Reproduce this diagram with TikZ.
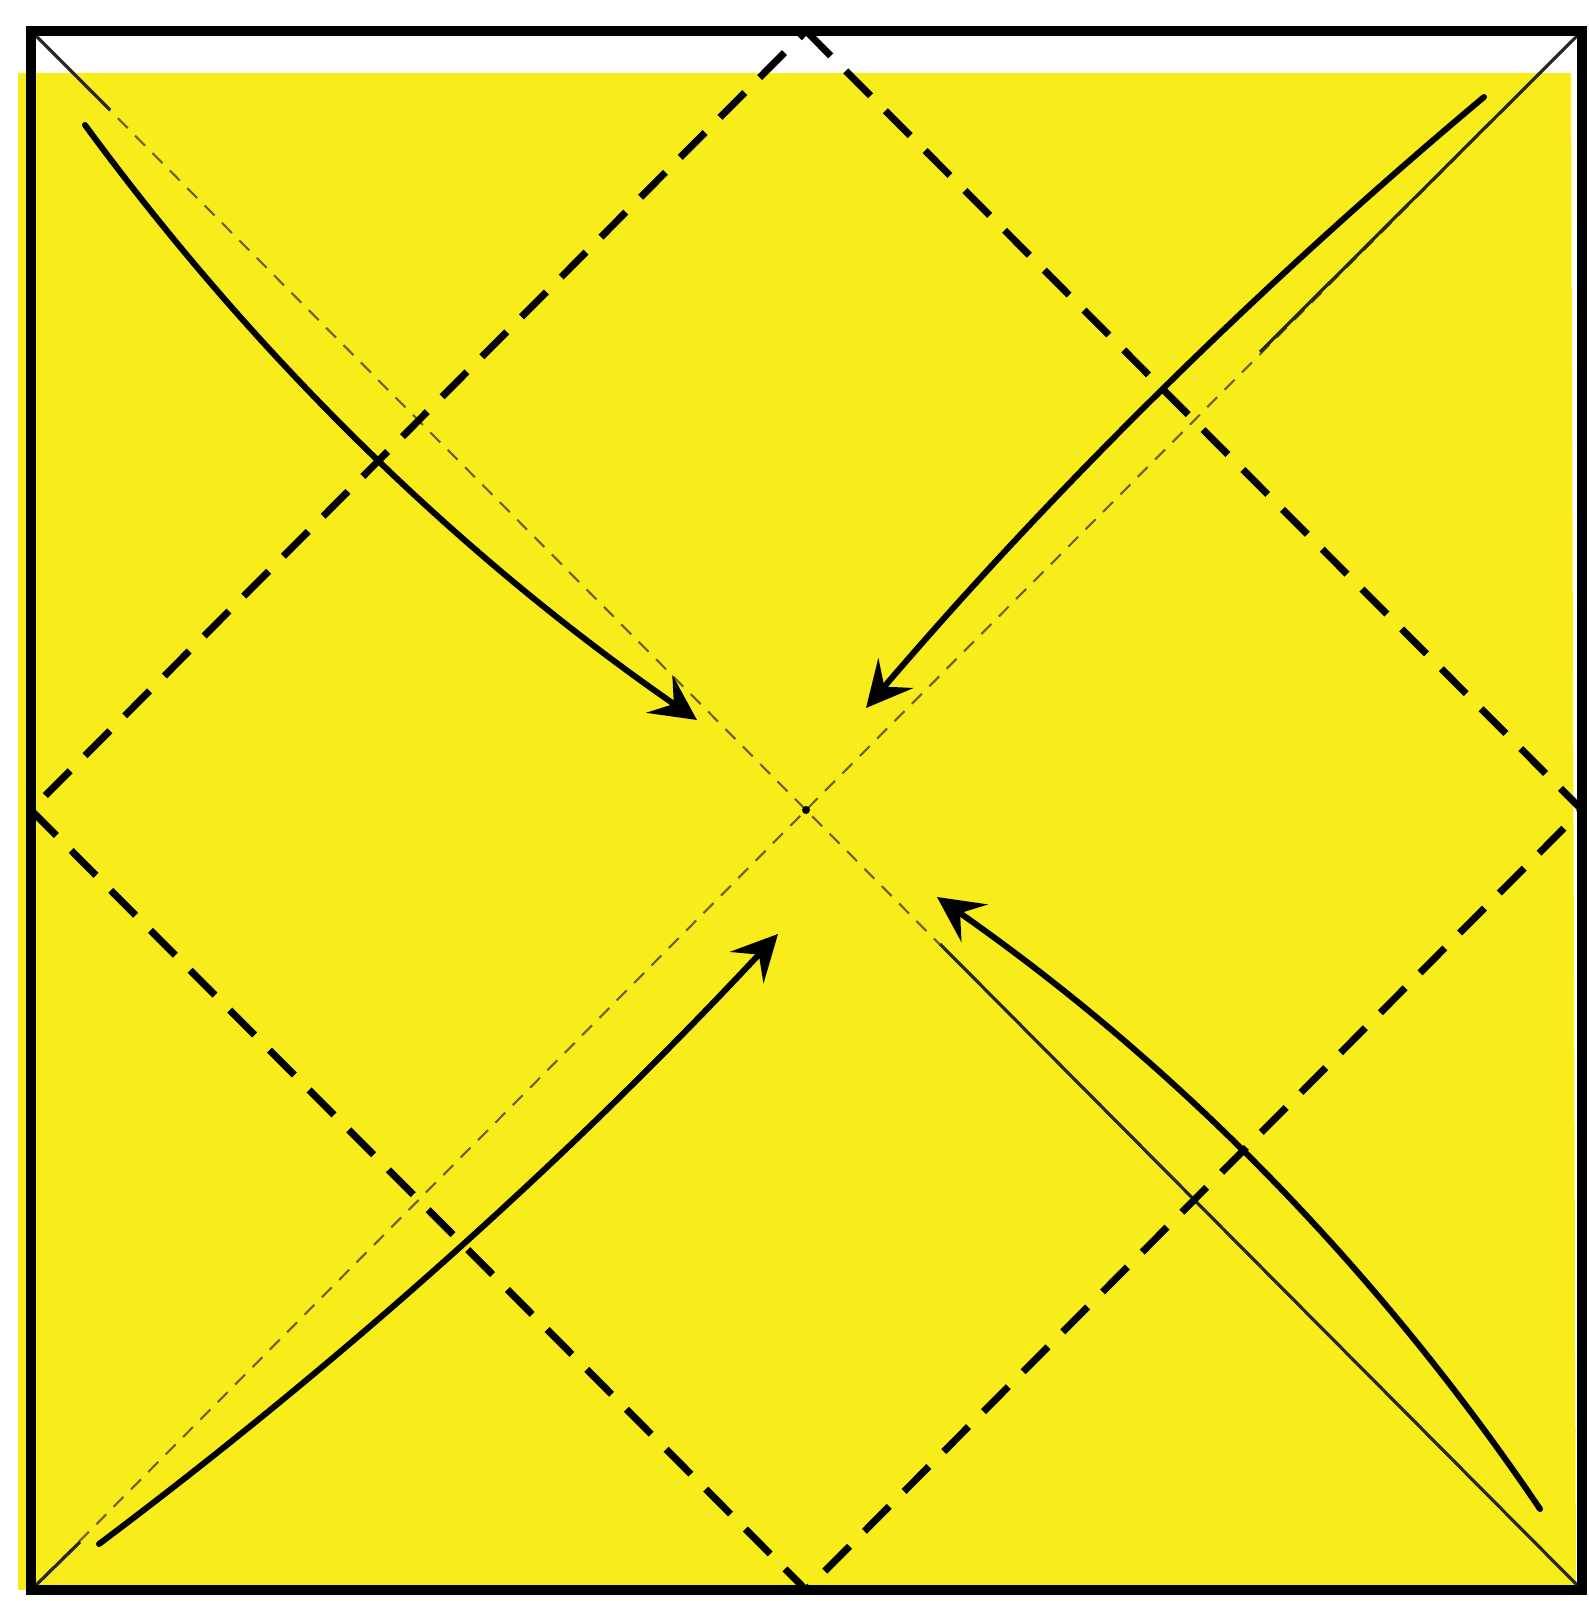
\documentclass[tikz,border=0pt]{standalone}
\usetikzlibrary{arrows.meta}
\definecolor{paper}{RGB}{248,236,26}
\definecolor{pencil}{RGB}{110,95,30}
\tikzset{
  px/.style={x={(0.01cm,0cm)}, y={(0cm,-0.01cm)}},
  edge/.style={black, line width=2.6pt, line join=miter},
  valley/.style={black, line width=2pt, dash pattern=on 10pt off 6pt},
  crease/.style={black!85, line width=0.9pt},
  dcrease/.style={pencil, line width=0.6pt, dash pattern=on 4pt off 3pt},
  move/.style={black, line width=1.7pt, line cap=round,
               -{Stealth[length=13pt,width=13pt,inset=5pt]}},
}

\begin{document}
\begin{tikzpicture}[px]
  \useasboundingbox (0,0) rectangle (1588,1601);

  % corners, edge midpoints and centre of the sheet
  \coordinate (tl) at (31,31);    \coordinate (tr) at (1582,31);
  \coordinate (bl) at (31,1590);  \coordinate (br) at (1582,1590);
  \coordinate (mt) at (806,31);   \coordinate (mb) at (806,1590);
  \coordinate (ml) at (31,810);   \coordinate (mr) at (1582,810);
  \coordinate (ctr) at (806,810);

  % --- coloured side of the paper ---
  \fill[paper] (18,73) -- (1571,73) -- (1576,1590) -- (18,1590) -- cycle;

  % --- diagonal creases ---
  \draw[dcrease] (tl) -- (ctr) -- (br);
  \draw[dcrease] (tr) -- (ctr) -- (bl);
  \draw[crease] (tl) -- (110,110);
  \draw[crease] (tr) -- (1260,352);
  \draw[crease] (br) -- (940,944);
  \draw[crease] (bl) -- (80,1542);
  \fill (ctr) circle (4);

  % --- valley folds, corner to centre ---
  \draw[valley] (mt) -- (mr) -- (mb) -- (ml) -- cycle;

  % --- edges ---
  \draw[edge] (tl) rectangle (br);

  % --- arrows: fold each corner to the centre ---
  \coordinate (tlA) at (85,125);    \coordinate (tlB) at (697,720);
  \coordinate (trA) at (1484,97);   \coordinate (trB) at (866,708);
  \coordinate (blA) at (99,1544);   \coordinate (blB) at (778,934);
  \coordinate (brA) at (1540,1509); \coordinate (brB) at (937,897);
  \draw[move] (tlA) .. controls (256,358) and (460,556) .. (tlB);
  \draw[move] (trA) .. controls (1261,284) and (1055,487) .. (trB);
  \draw[move] (blA) .. controls (343,1361) and (570,1157) .. (blB);
  \draw[move] (brA) .. controls (1377,1268) and (1176,1064) .. (brB);
\end{tikzpicture}
\end{document}
